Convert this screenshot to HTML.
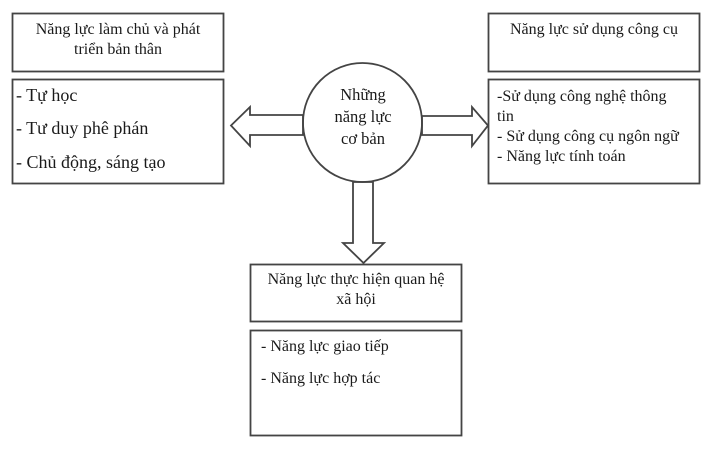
<!DOCTYPE html>
<html><head><meta charset="utf-8"><style>body{margin:0;background:#fff}svg{display:block}text{font-family:"Liberation Serif",serif;fill:#1a1a1a}</style></head>
<body>
<svg width="710" height="456" viewBox="0 0 710 456" xmlns="http://www.w3.org/2000/svg">
<g fill="none" stroke="#444" stroke-width="1.8">
<rect x="12.5" y="13.5" width="211" height="58"/>
<rect x="12.5" y="79.5" width="211" height="104"/>
<rect x="488.5" y="13.5" width="211" height="58"/>
<rect x="488.5" y="79.5" width="211" height="104"/>
<rect x="250.5" y="264.5" width="211" height="57"/>
<rect x="250.5" y="330.5" width="211" height="105"/>
<circle cx="362.5" cy="122.5" r="59.5"/>
<polygon points="303,115 250,115 250,107 231,125.5 250,146 250,135 303,135"/>
<polygon points="422,116 472,116 472,107 488,125.5 472,146 472,135 422,135"/>
<polygon points="353,182 353,243 343,243 363.5,263 384,243 373,243 373,182"/>
</g>
<g font-size="16" text-anchor="middle">
<text x="118" y="34">Năng lực làm chủ và phát</text>
<text x="118" y="54">triển bản thân</text>
<text x="594" y="34">Năng lực sử dụng công cụ</text>
<text x="356" y="284">Năng lực thực hiện quan hệ</text>
<text x="356" y="304">xã hội</text>
<text x="363" y="100" font-size="16.5">Những</text>
<text x="363" y="122" font-size="16.5">năng lực</text>
<text x="363" y="144" font-size="16.5">cơ bản</text>
</g>
<g font-size="18">
<text x="16" y="101">- Tự học</text>
<text x="16" y="134">- Tư duy phê phán</text>
<text x="16" y="168">- Chủ động, sáng tạo</text>
</g>
<g font-size="16">
<text x="497" y="101">-Sử dụng công nghệ thông</text>
<text x="497" y="121">tin</text>
<text x="497" y="141">- Sử dụng công cụ ngôn ngữ</text>
<text x="497" y="161">- Năng lực tính toán</text>
<text x="261" y="351">- Năng lực giao tiếp</text>
<text x="261" y="383">- Năng lực hợp tác</text>
</g>
</svg>
</body></html>
